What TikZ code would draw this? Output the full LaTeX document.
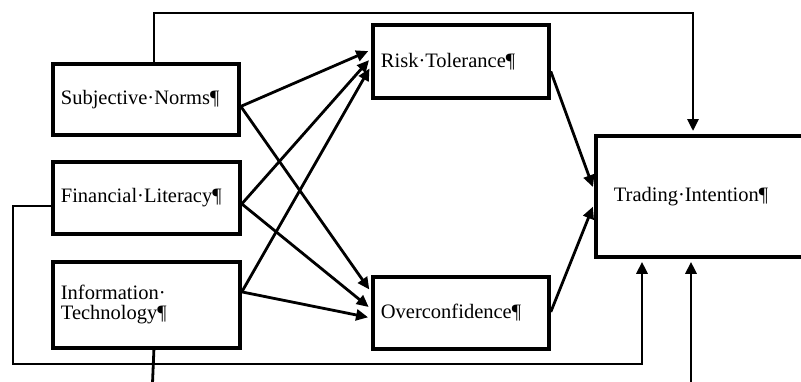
\documentclass[tikz,border=0pt]{standalone}
\usepackage{fontspec}
\setmainfont{Liberation Serif}
\usetikzlibrary{arrows.meta}
\begin{document}
\begin{tikzpicture}[x=1pt,y=-1pt,
  box/.style={draw, line width=3.8pt, anchor=north west, align=left,
    inner xsep=8pt, inner ysep=0pt,
    font=\fontsize{20.5}{20}\selectfont},
  conn/.style={line width=2.8pt},
  arr/.style={line width=2.8pt, -{Triangle[length=12pt,width=11pt]}, shorten >=3pt}]
\useasboundingbox (0,0) rectangle (801,381);
\clip (0,0) rectangle (801,381);
\fill[white] (0,0) rectangle (801,381);
% nodes
\node[box, text width=170pt, minimum height=71pt] (SN) at (51,62) {Subjective·Norms¶};
\node[box, text width=171pt, minimum height=72pt] (FL) at (51,160) {Financial·Literacy¶};
\node[box, text width=171pt, minimum height=86pt] (IT) at (51,260) {Information·\\Technology¶};
\node[box, text width=160pt, minimum height=73pt] (RT) at (371,23) {Risk·Tolerance¶};
\node[box, text width=160pt, minimum height=72pt] (OC) at (371,275) {Overconfidence¶};
\node[box, inner xsep=18pt, text width=190pt, minimum height=121pt] (TI) at (594,134) {Trading·Intention¶};
% free-end coordinates
\coordinate (topR) at (693,13);
\coordinate (bl) at (13,364);
\coordinate (br) at (642,364);
\coordinate (itEnd) at (152,395);
\coordinate (inB) at (691,395);
% sources on the left boxes
\coordinate (snO) at ([yshift=-7pt]SN.east);
\coordinate (flO) at ([yshift=-6pt]FL.east);
\coordinate (itO) at ([yshift=13pt]IT.east);
% mediators
\draw[arr] (snO) -- ([yshift=11.5pt]RT.west);
\draw[arr] (flO) -- ([yshift=3.5pt]RT.west);
\draw[arr] (itO) -- ([yshift=-4.5pt]RT.west);
\draw[arr] (snO) -- ([yshift=21pt]OC.west);
\draw[arr] (flO) -- ([yshift=4pt]OC.west);
\draw[arr] (itO) -- ([yshift=-5pt]OC.west);
\draw[arr] ([yshift=-10pt]RT.east) -- ([yshift=6.5pt]TI.west);
\draw[arr] ([yshift=1pt]OC.east) -- ([yshift=-7.5pt]TI.west);
% direct paths
\draw[arr] ([xshift=8pt]SN.north) |- (topR) -- (topR |- TI.north);
\draw[arr] ([yshift=-8pt]FL.west) -| (bl) -- (br) -- (br |- TI.south);
\draw[conn] ([xshift=7.5pt]IT.south) -- (itEnd);
\draw[arr] (inB) -- (inB |- TI.south);
\end{tikzpicture}
\end{document}
